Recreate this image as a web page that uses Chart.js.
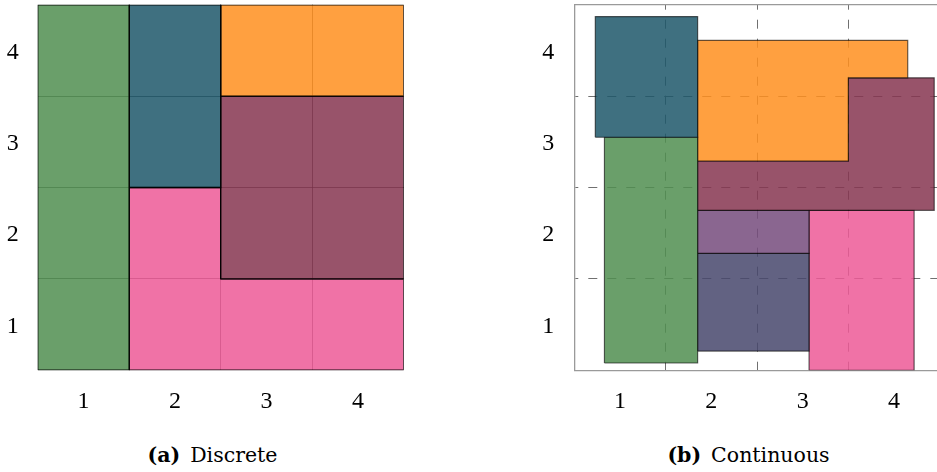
<!DOCTYPE html>
<html>
<head>
<meta charset="utf-8">
<script src="https://cdn.jsdelivr.net/npm/chart.js@4.4.1/dist/chart.umd.min.js"></script>
<style>
  body { margin: 0; background: #fff; width: 937px; height: 472px; overflow: hidden; position: relative; }
  #left { position: absolute; left: 0; top: 0; }
  #right { position: absolute; left: 520px; top: 0; }
  .cap { position: absolute; top: 445px; font-family: "DejaVu Serif", serif; font-size: 20.5px; line-height: 20.5px; text-align: center; color: #000; white-space: nowrap; }
  .cap b { margin-right: 10px; }
</style>
</head>
<body>
<canvas id="left" width="420" height="420"></canvas>
<canvas id="right" width="425" height="420"></canvas>
<div class="cap" style="left:0;width:425px"><b>(a)</b>Discrete</div>
<div class="cap" style="left:560px;width:377px"><b>(b)</b>Continuous</div>
<script>
// axis values, both panels (grid lines fall between the labelled ticks)
const tickValues = [1, 2, 3, 4];
const axisMin = 0.5;
const axisMax = 4.5;

// (a) discrete regions, corners on cell edges
const discreteGreen  = [[0.5, 0.5], [1.5, 0.5], [1.5, 4.5], [0.5, 4.5]];
const discreteTeal   = [[1.5, 2.5], [2.5, 2.5], [2.5, 4.5], [1.5, 4.5]];
const discreteOrange = [[2.5, 3.5], [4.5, 3.5], [4.5, 4.5], [2.5, 4.5]];
const discreteMaroon = [[2.5, 1.5], [4.5, 1.5], [4.5, 3.5], [2.5, 3.5]];
const discretePink   = [[1.5, 0.5], [4.5, 0.5], [4.5, 1.5], [2.5, 1.5], [2.5, 2.5], [1.5, 2.5]];

// (b) continuous regions
const contTeal   = [[0.73, 3.05], [1.85, 3.05], [1.85, 4.37], [0.73, 4.37]];
const contGreen  = [[0.83, 0.58], [1.85, 0.58], [1.85, 3.05], [0.83, 3.05]];
const contOrange = [[1.85, 2.79], [3.5, 2.79], [3.5, 3.70], [4.15, 3.70], [4.15, 4.11], [1.85, 4.11]];
const contMaroon = [[1.85, 2.25], [4.44, 2.25], [4.44, 3.70], [3.5, 3.70], [3.5, 2.79], [1.85, 2.79]];
const contPurple = [[1.85, 1.78], [3.07, 1.78], [3.07, 2.25], [1.85, 2.25]];
const contSlate  = [[1.85, 0.71], [3.07, 0.71], [3.07, 1.78], [1.85, 1.78]];
const contPink   = [[3.07, 0.5], [4.22, 0.5], [4.22, 2.25], [3.07, 2.25]];

const colGreen  = 'rgba(80,142,80,0.85)';
const colTeal   = 'rgba(29,87,106,0.85)';
const colOrange = 'rgba(255,143,30,0.85)';
const colMaroon = 'rgba(134,53,80,0.85)';
const colPink   = 'rgba(237,89,150,0.85)';
const colPurple = 'rgba(117,75,124,0.85)';
const colSlate  = 'rgba(70,70,108,0.85)';

function shape(points, color, edge, width) {
    const pts = points.concat([points[0]]);
    return {
        data: pts.map(p => ({x: p[0], y: p[1]})),
        backgroundColor: color,
        borderColor: edge,
        borderWidth: width,
        borderJoinStyle: 'miter',
        fill: 'shape',
        pointRadius: 0,
        tension: 0,
        xAxisID: 'x',
        yAxisID: 'y'
    };
}

function axis(size, isY, gridColor, dash, dashOffset, borderColor, pad) {
    return {
        type: 'linear',
        min: axisMin,
        max: axisMax,
        afterBuildTicks: s => {
            s.ticks = tickValues.map(v => ({value: v}));
        },
        afterFit: s => {
            if (isY) s.width = size; else s.height = size;
            s.paddingTop = s.paddingBottom = s.paddingLeft = s.paddingRight = 0;
        },
        ticks: {
            autoSkip: false,
            maxRotation: 0,
            padding: pad,
            labelOffset: isY ? 2 : 0,
            color: '#000',
            font: {family: 'Liberation Serif', size: 24}
        },
        grid: {
            offset: true,
            drawTicks: false,
            lineWidth: 1,
            color: c => (c.type === 'tick' && c.index > 0) ? gridColor : 'rgba(0,0,0,0)'
        },
        border: {
            display: borderColor !== null,
            color: borderColor || '#000',
            width: 1.3,
            dash: dash,
            dashOffset: dashOffset
        }
    };
}

const common = {
    responsive: false,
    animation: false,
    events: [],
    plugins: {legend: {display: false}, tooltip: {enabled: false}}
};

// (a) Discrete
new Chart(document.getElementById('left').getContext('2d'), {
    type: 'line',
    data: {
        datasets: [
            shape(discreteGreen, colGreen, 'rgba(0,0,0,0.9)', 1.4),
            shape(discreteTeal, colTeal, 'rgba(0,0,0,0.9)', 1.4),
            shape(discreteOrange, colOrange, 'rgba(0,0,0,0.9)', 1.4),
            shape(discreteMaroon, colMaroon, 'rgba(0,0,0,0.9)', 1.4),
            shape(discretePink, colPink, 'rgba(0,0,0,0.9)', 1.4)
        ]
    },
    options: Object.assign({}, common, {
        layout: {padding: {top: 4.7, right: 16.3, left: 0, bottom: 0}},
        scales: {
            x: axis(49.7, false, 'rgba(0,0,0,0.6)', [], 0, null, 17),
            y: axis(37.7, true, 'rgba(0,0,0,0.6)', [], 0, null, 19)
        }
    })
});

// (b) Continuous
new Chart(document.getElementById('right').getContext('2d'), {
    type: 'line',
    data: {
        datasets: [
            shape(contTeal, colTeal, 'rgba(0,0,0,0.6)', 1.2),
            shape(contGreen, colGreen, 'rgba(0,0,0,0.6)', 1.2),
            shape(contOrange, colOrange, 'rgba(0,0,0,0.6)', 1.2),
            shape(contMaroon, colMaroon, 'rgba(0,0,0,0.6)', 1.2),
            shape(contPurple, colPurple, 'rgba(0,0,0,0.6)', 1.2),
            shape(contSlate, colSlate, 'rgba(0,0,0,0.6)', 1.2),
            shape(contPink, colPink, 'rgba(0,0,0,0.6)', 1.2)
        ]
    },
    options: Object.assign({}, common, {
        layout: {padding: {top: 4.7, right: 5.3, left: 0, bottom: 0}},
        scales: {
            x: axis(49.7, false, '#707070', [9, 10], 4, '#9a9a9a', 17),
            y: axis(54.3, true, '#707070', [9, 10], 6, '#9a9a9a', 20),
            x2: {
                type: 'linear',
                position: 'top',
                afterFit: s => {
                    s.height = 0;
                    s.paddingTop = s.paddingBottom = s.paddingLeft = s.paddingRight = 0;
                },
                ticks: {display: false},
                grid: {display: false, drawTicks: false},
                border: {display: true, color: '#9a9a9a', width: 1.3}
            }
        }
    })
});
</script>
</body>
</html>
